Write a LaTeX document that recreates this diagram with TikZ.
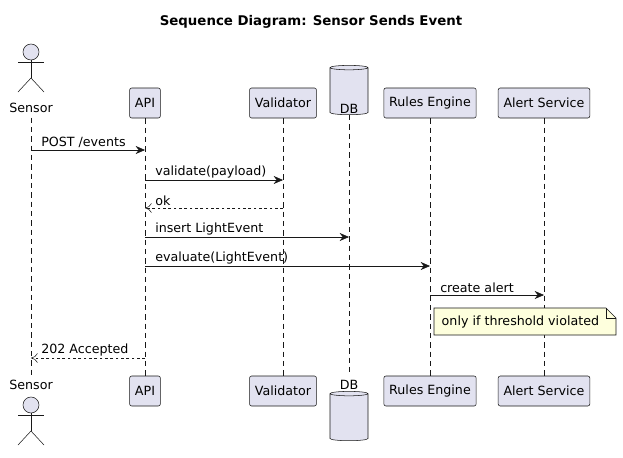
\documentclass[tikz,border=0pt]{standalone}
\usepackage{fontspec}
\setmainfont{DejaVu Sans}
\usetikzlibrary{arrows.meta,shapes.geometric,calc}
\definecolor{partfill}{HTML}{E2E2F0}
\definecolor{partline}{HTML}{181818}
\definecolor{notefill}{HTML}{FEFFDD}
\begin{document}
\begin{tikzpicture}[x=0.75pt,y=-0.75pt,
    font=\fontsize{9.5}{11}\selectfont,
    part/.style={draw=partline,fill=partfill,rounded corners=1.5pt,minimum height=22.5pt,inner xsep=4pt},
    life/.style={draw=partline,dashed,dash pattern=on 4pt off 3pt,thin},
    msg/.style={draw=partline,-{Stealth[length=7pt,width=6pt]}},
    reply/.style={msg,dash pattern=on 2pt off 2pt,-{To[length=5pt,width=7pt]}},
    lbl/.style={above right,inner sep=1.5pt,xshift=6pt}]
    \useasboundingbox (0,0) rectangle (623,457);

    \node[font=\fontsize{10}{12}\selectfont\bfseries] (title) at (311,22) {Sequence Diagram: Sensor Sends Event};

    % participants, top and bottom
    \foreach \y/\t in {103/top,391/bot}{
      \node[part] (api\t) at (145,\y) {API};
      \node[part] (val\t) at (283,\y) {Validator};
      \node[part] (rul\t) at (430,\y) {Rules Engine};
      \node[part] (ale\t) at (544,\y) {Alert Service};
    }
    % db cylinders
    \node[cylinder,shape border rotate=90,draw=partline,fill=partfill,minimum width=28.5pt,minimum height=37pt,aspect=0.5] (dbtop) at (349,92) {};
    \node (dbtoplbl) at (349,109) {DB};
    \node (dbbotlbl) at (349,385) {DB};
    \node[cylinder,shape border rotate=90,draw=partline,fill=partfill,minimum width=28.5pt,minimum height=37pt,aspect=0.5] (dbbot) at (349,418) {};

    % actor, top and bottom
    \foreach \h/\t in {52/top,405/bot}{
      \node[circle,draw=partline,fill=partfill,minimum size=12pt,inner sep=0pt] (head\t) at (31,\h) {};
      \coordinate (hip\t) at (31,\h+26);
      \draw[partline] (head\t.south) -- (hip\t);
      \draw[partline] (18,\h+10) -- (44,\h+10);
      \draw[partline] (hip\t) -- (18,\h+40);
      \draw[partline] (hip\t) -- (44,\h+40);
    }
    \node (sentop) at (31,108) {Sensor};
    \node (senbot) at (31,385) {Sensor};

    % lifelines
    \draw[life] (sentop.south) -- (senbot.north);
    \draw[life] (apitop) -- (apibot);
    \draw[life] (valtop) -- (valbot);
    \draw[life] (dbtop.south) -- (dbbotlbl.north);
    \draw[life] (rultop) -- (rulbot);
    \draw[life] (aletop) -- (alebot);

    % messages
    \coordinate (m1a) at (31,150);  \coordinate (m1b) at (145,150);
    \coordinate (m2a) at (145,180); \coordinate (m2b) at (283,180);
    \coordinate (m3a) at (283,208); \coordinate (m3b) at (145,208);
    \coordinate (m4a) at (145,237); \coordinate (m4b) at (349,237);
    \coordinate (m5a) at (145,266); \coordinate (m5b) at (430,266);
    \coordinate (m6a) at (430,295); \coordinate (m6b) at (544,295);
    \coordinate (m8a) at (145,358); \coordinate (m8b) at (31,358);

    \draw[msg] (m1a) -- (m1b) node[pos=0,lbl] {POST /events};
    \draw[msg] (m2a) -- (m2b) node[pos=0,lbl] {validate(payload)};
    \draw[reply] (m3a) -- (m3b) node[pos=1,lbl] {ok};
    \draw[msg] (m4a) -- (m4b) node[pos=0,lbl] {insert LightEvent};
    \draw[msg] (m5a) -- (m5b) node[pos=0,lbl] {evaluate(LightEvent)};
    \draw[msg] (m6a) -- (m6b) node[pos=0,lbl] {create alert};
    \draw[reply] (m8a) -- (m8b) node[pos=1,lbl] {202 Accepted};

    % note
    \draw[partline,fill=notefill,thin] (434,308) -- (606,308) -- (616,318) -- (616,335) -- (434,335) -- cycle;
    \draw[partline,thin] (606,308) -- (606,318) -- (616,318);
    \node[anchor=west] (note) at (437,321.5) {only if threshold violated};
\end{tikzpicture}
\end{document}
